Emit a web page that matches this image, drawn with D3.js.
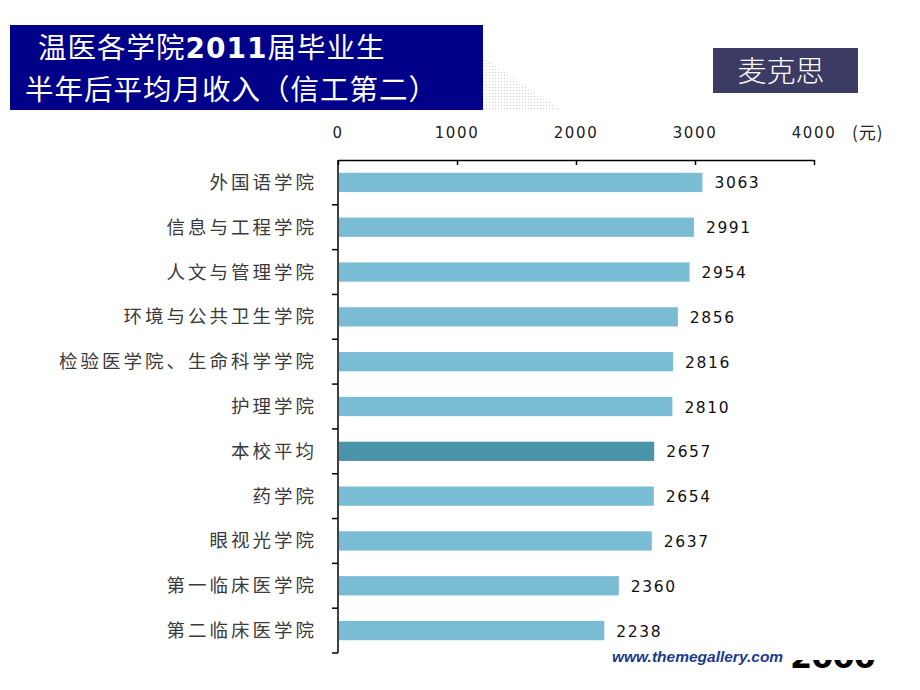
<!DOCTYPE html>
<html><head><meta charset="utf-8">
<script src="https://cdn.jsdelivr.net/npm/d3@7"></script>
<style>body{margin:0;background:#fff}svg{display:block}</style>
</head><body>
<script>
const categories = ["外国语学院","信息与工程学院","人文与管理学院","环境与公共卫生学院","检验医学院、生命科学学院","护理学院","本校平均","药学院","眼视光学院","第一临床医学院","第二临床医学院"];
const values = [3063,2991,2954,2856,2816,2810,2657,2654,2637,2360,2238];
const highlight = ["本校平均"];
const xTicks = [0,1000,2000,3000,4000];
const unitLabel = "(元)";
const titleLine1 = ["温医各学院","2011","届毕业生"];
const titleLine2 = "半年后平均月收入（信工第二）";
const sourceTag = "麦克思";
const footer = "www.themegallery.com";

(function(){
const W=920,H=690;
const svg=d3.select("body").append("svg").attr("width",W).attr("height",H);
const defs=svg.append("defs");
const pat=defs.append("pattern").attr("id","dots").attr("width",3).attr("height",3).attr("patternUnits","userSpaceOnUse");
pat.append("rect").attr("width",3).attr("height",3).attr("fill","#fff");
pat.append("rect").attr("width",1).attr("height",1).attr("fill","#d0d0d0");

// decorative triangle
svg.append("path").attr("d","M483,58 L562,110 L483,110 Z").attr("fill","url(#dots)");

// title box
svg.append("rect").attr("x",10).attr("y",25).attr("width",473).attr("height",85).attr("fill","#000088");
const t1=svg.append("text").attr("x",38).attr("y",58).attr("fill","#fff").attr("font-size",28.5).attr("letter-spacing",1).attr("font-family","'Noto Sans CJK SC',sans-serif");
t1.append("tspan").text(titleLine1[0]);
t1.append("tspan").attr("font-weight","bold").attr("font-family","'DejaVu Sans',sans-serif").attr("font-size",28).text(titleLine1[1]);
t1.append("tspan").text(titleLine1[2]);
svg.append("text").attr("x",25).attr("y",100).attr("fill","#fff").attr("font-size",28.5).attr("letter-spacing",1).attr("font-family","'Noto Sans CJK SC',sans-serif").text(titleLine2);

// source tag
svg.append("rect").attr("x",713).attr("y",48).attr("width",145).attr("height",45).attr("fill","#3b3b63");
svg.append("text").attr("x",781).attr("y",82).attr("text-anchor","middle").attr("fill","#fff").attr("font-size",29).attr("font-family","'Noto Sans CJK SC',sans-serif").attr("font-weight","300").text(sourceTag);

// chart
const pl=338,pt=160,pr=814,pb=653;
const x=d3.scaleLinear().domain([0,4000]).range([pl,pr]);
const y=d3.scaleBand().domain(categories).range([pt,pb]).paddingInner(0.57).paddingOuter(0.285);

// x axis at top (ticks point down into plot)
const xa=svg.append("g").attr("transform",`translate(0,${pt})`)
  .call(d3.axisBottom(x).tickValues(xTicks).tickSize(5).tickSizeOuter(0).tickFormat(()=>""));
xa.select(".domain").attr("stroke","#000").attr("stroke-width",1.5);
xa.selectAll(".tick line").attr("stroke","#000").attr("stroke-width",1.5);
svg.append("g").selectAll("text").data(xTicks).join("text")
  .attr("x",d=>x(d)).attr("y",138).attr("text-anchor","middle")
  .attr("font-family","'DejaVu Sans',Verdana,sans-serif").attr("font-size",15).attr("letter-spacing",1.6).attr("fill","#222").text(d=>d);
svg.append("text").attr("x",852).attr("y",139).attr("font-family","'Noto Sans CJK SC',sans-serif").attr("font-size",17).attr("letter-spacing",1).attr("fill","#222").text(unitLabel);

// y axis
const step=y.step();
const yTickPos=d3.range(1,categories.length+1).map(i=>pt+i*step);
svg.append("line").attr("x1",pl).attr("x2",pl).attr("y1",pt).attr("y2",pb).attr("stroke","#000").attr("stroke-width",1.5);
svg.append("g").selectAll("line").data(yTickPos).join("line")
  .attr("x1",pl-6).attr("x2",pl).attr("y1",d=>d).attr("y2",d=>d).attr("stroke","#000").attr("stroke-width",1.5);

// bars
svg.append("g").selectAll("rect").data(values).join("rect")
  .attr("x",x(0)+1).attr("y",(d,i)=>y(categories[i])).attr("height",y.bandwidth())
  .attr("width",d=>x(d)-x(0)-1)
  .attr("fill",(d,i)=>highlight.includes(categories[i])?"#4b95aa":"#7abcd4");

// value labels
svg.append("g").selectAll("text").data(values).join("text")
  .attr("x",d=>x(d)+12).attr("y",(d,i)=>y(categories[i])+y.bandwidth()/2+6)
  .attr("font-family","'DejaVu Sans',Verdana,sans-serif").attr("font-size",15.5).attr("letter-spacing",1.6).attr("fill","#111").text(d=>d);

// category labels
svg.append("g").selectAll("text").data(categories).join("text")
  .attr("x",317).attr("y",d=>y(d)+y.bandwidth()/2+6.5).attr("text-anchor","end")
  .attr("font-family","'Noto Sans CJK SC',serif").attr("font-size",18.5).attr("letter-spacing",3).attr("fill","#3a3a3a").text(d=>d);

// footer
svg.append("text").attr("x",612).attr("y",662).attr("font-family","Arial,'Liberation Sans',sans-serif").attr("font-size",15.5)
  .attr("font-weight","bold").attr("font-style","italic").attr("fill","#1e3a8a").text(footer);
const clipBox=svg.append("svg").attr("x",785).attr("y",660).attr("width",110).attr("height",9).attr("overflow","hidden");
clipBox.append("text").attr("x",5).attr("y",8).attr("font-family","'DejaVu Sans',sans-serif")
  .attr("font-weight","bold").attr("font-size",32).attr("letter-spacing",-1).attr("fill","#000").text("2000");
})();
</script>
</body></html>
